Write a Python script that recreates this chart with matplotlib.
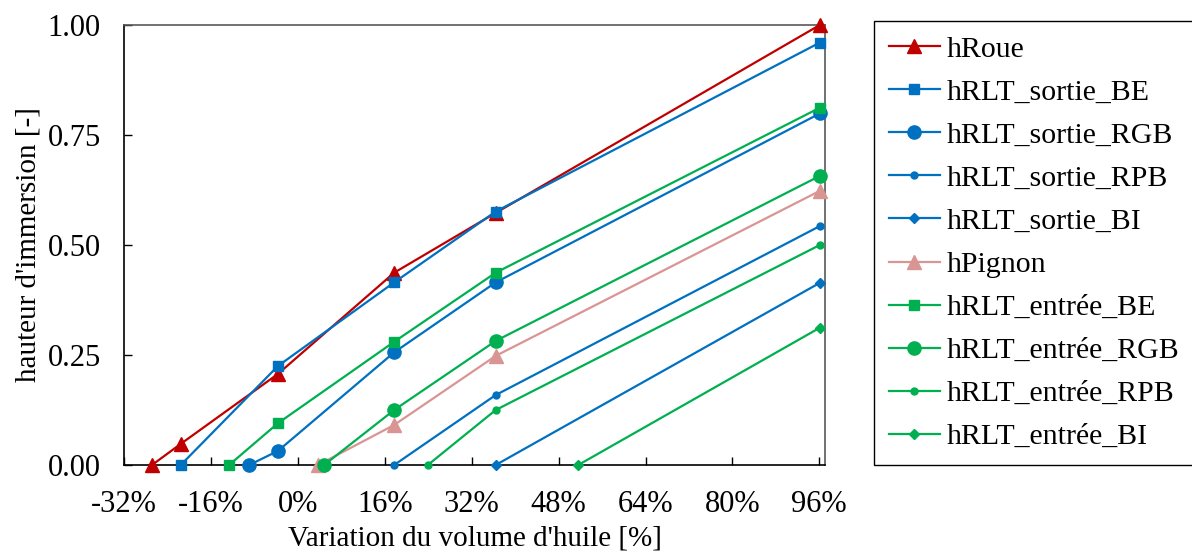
import numpy as np
import matplotlib
matplotlib.use("Agg")
import matplotlib.pyplot as plt

plt.rcParams['font.family'] = ['Liberation Serif', 'DejaVu Serif']
plt.rcParams['font.size'] = 22

# data (x = variation du volume d'huile, fraction; y = hauteur d'immersion)
x_roue = [-0.269, -0.216, -0.037, 0.177, 0.364, 0.961]
y_roue = [0.0, 0.048, 0.207, 0.437, 0.573, 1.0]

x_s_be = [-0.216, -0.037, 0.177, 0.364, 0.961]
y_s_be = [0.0, 0.225, 0.415, 0.576, 0.96]

x_s_rgb = [-0.090, -0.037, 0.177, 0.364, 0.961]
y_s_rgb = [0.0, 0.032, 0.256, 0.415, 0.799]

x_s_rpb = [0.177, 0.364, 0.961]
y_s_rpb = [0.0, 0.159, 0.543]

x_s_bi = [0.364, 0.961]
y_s_bi = [0.0, 0.414]

x_pignon = [0.037, 0.177, 0.364, 0.961]
y_pignon = [0.0, 0.091, 0.248, 0.623]

x_e_be = [-0.127, -0.037, 0.177, 0.364, 0.961]
y_e_be = [0.0, 0.095, 0.28, 0.437, 0.812]

x_e_rgb = [0.048, 0.177, 0.364, 0.961]
y_e_rgb = [0.0, 0.125, 0.282, 0.657]

x_e_rpb = [0.239, 0.364, 0.961]
y_e_rpb = [0.0, 0.125, 0.5]

x_e_bi = [0.516, 0.961]
y_e_bi = [0.0, 0.312]

x_ticks = [-0.32, -0.16, 0.0, 0.16, 0.32, 0.48, 0.64, 0.80, 0.96]
y_ticks = [0.0, 0.25, 0.5, 0.75, 1.0]

red = '#C00000'
blue = '#0070C0'
green = '#00B050'
pink = '#D99594'

series = [
    ('hRoue', x_roue, y_roue, red, '^', 10),
    ('hRLT_sortie_BE', x_s_be, y_s_be, blue, 's', 7.5),
    ('hRLT_sortie_RGB', x_s_rgb, y_s_rgb, blue, 'o', 9.5),
    ('hRLT_sortie_RPB', x_s_rpb, y_s_rpb, blue, 'o', 5),
    ('hRLT_sortie_BI', x_s_bi, y_s_bi, blue, 'D', 5),
    ('hPignon', x_pignon, y_pignon, pink, '^', 10),
    ('hRLT_entrée_BE', x_e_be, y_e_be, green, 's', 7.5),
    ('hRLT_entrée_RGB', x_e_rgb, y_e_rgb, green, 'o', 9.5),
    ('hRLT_entrée_RPB', x_e_rpb, y_e_rpb, green, 'o', 5),
    ('hRLT_entrée_BI', x_e_bi, y_e_bi, green, 'D', 5),
]

fig = plt.figure(figsize=(11.92, 5.56), dpi=100)
ax = fig.add_axes([124.3 / 1192, 1 - 465 / 556, 700.7 / 1192, 440 / 556])

for label, xs, ys, c, m, ms in series:
    ax.plot(xs, ys, color=c, marker=m, markersize=ms, linewidth=1.6,
            label=label, clip_on=False, zorder=3)

ax.set_xlim(-0.32, 0.9705)
ax.set_ylim(0, 1.0)
ax.set_xticks(x_ticks)
ax.set_yticks(y_ticks)
ax.set_xticklabels([f'{round(v * 100)}%' for v in x_ticks])
ax.set_yticklabels([f'{v:.2f}' for v in y_ticks])
ax.tick_params(direction='in', length=6, width=1)
ax.tick_params(axis='y', pad=17)
ax.tick_params(axis='x', pad=18)

for s in ['left', 'bottom']:
    ax.spines[s].set_color('black')
    ax.spines[s].set_linewidth(1.2)
for s in ['top', 'right']:
    ax.spines[s].set_color('#595959')
    ax.spines[s].set_linewidth(1.2)

ax.set_xlabel("Variation du volume d'huile [%]", fontsize=21, labelpad=5)
ax.set_ylabel("hauteur d'immersion [-]", fontsize=21, labelpad=4)

leg = fig.legend(loc='upper left', bbox_to_anchor=(874 / 1192, 1 - 21 / 556),
                 borderaxespad=0, fancybox=False, edgecolor='black',
                 framealpha=1, fontsize=21.5, handlelength=1.7,
                 labelspacing=0.54, borderpad=0.5, handletextpad=0.25)
leg.get_frame().set_linewidth(1.0)

fig.savefig('out.png', dpi=100)
